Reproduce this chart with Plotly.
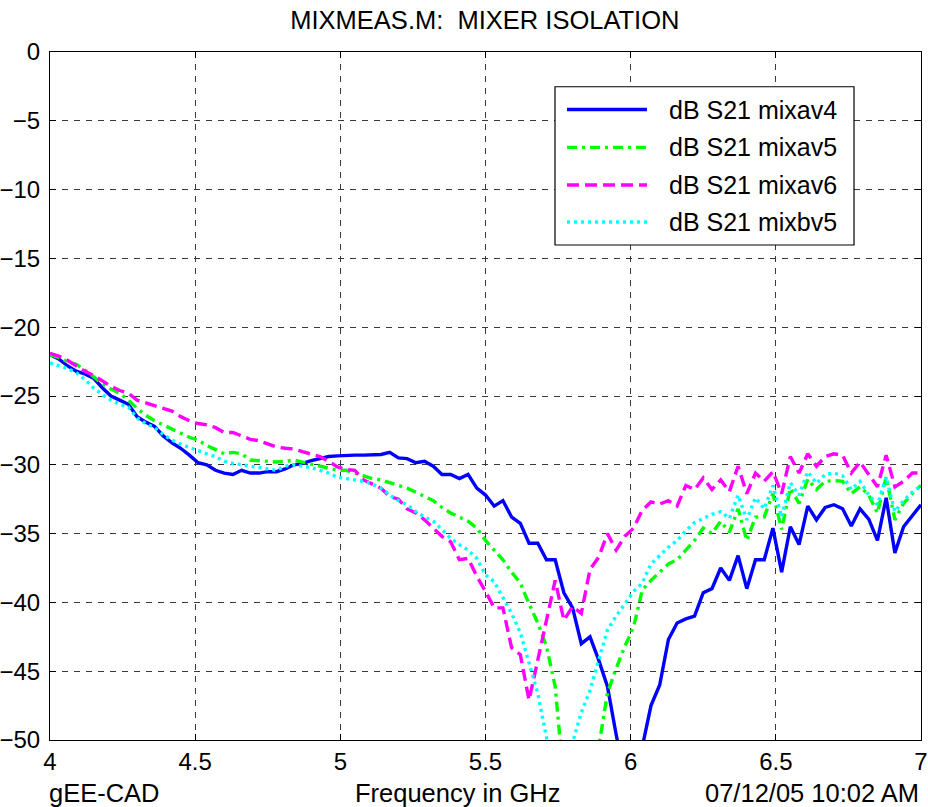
import plotly.graph_objects as go

# Frequency sweep, 4-7 GHz in 30 MHz steps
freq_ghz = [round(4.0 + 0.03 * i, 2) for i in range(101)]

s21_mixav4 = [
    -22.0, -22.3, -22.8, -23.2, -23.4, -23.7, -24.4, -25.0, -25.3, -25.6,
    -26.5, -26.9, -27.2, -27.9, -28.4, -28.8, -29.3, -29.85, -30.0, -30.4,
    -30.6, -30.7, -30.4, -30.6, -30.6, -30.5, -30.5, -30.3, -30.0, -29.9,
    -29.7, -29.55, -29.4, -29.35, -29.3, -29.3, -29.3, -29.3, -29.25, -29.1,
    -29.5, -29.55, -29.85, -29.75, -30.1, -30.7, -30.7, -31.0, -30.7, -31.7,
    -32.2, -33.0, -32.6, -33.8, -34.25, -35.7, -35.7, -36.9, -36.9, -39.3,
    -40.4, -43.0, -42.5, -44.2, -46.1, -49.6, -53.0, -56.0, -50.5, -47.5,
    -46.0, -42.7, -41.5, -41.2, -41.0, -39.3, -39.0, -37.5, -38.4, -36.6,
    -39.0, -36.9, -36.9, -34.6, -37.8, -34.5, -35.8, -33.0, -34.0, -33.1,
    -32.9, -33.2, -34.45, -33.2, -33.95, -35.5, -32.4, -36.4, -34.5, -33.7,
    -32.9,
]

s21_mixav5 = [
    -22.0, -22.2, -22.5, -22.7, -23.1, -23.6, -24.1, -24.5, -24.8, -25.3,
    -25.9, -26.4, -26.8, -27.1, -27.4, -27.7, -28.0, -28.2, -28.6, -28.9,
    -29.2, -29.1, -29.2, -29.65, -29.7, -29.7, -29.8, -29.75, -29.65, -29.8,
    -29.95, -30.1, -30.25, -30.4, -30.4, -30.6, -30.85, -31.0, -31.1, -31.3,
    -31.5, -31.7, -32.0, -32.3, -32.6, -33.1, -33.5, -33.8, -34.1, -34.6,
    -35.5, -36.2, -36.9, -37.8, -38.6, -40.1, -41.5, -43.2, -46.1, -53.0,
    -58.0, -58.0, -55.0, -50.5, -46.6, -44.8, -43.2, -41.8, -39.1, -38.4,
    -37.8, -37.2, -36.9, -36.2, -35.5, -34.6, -35.0, -34.1, -34.9, -33.2,
    -35.5, -33.8, -33.8, -32.1, -34.7, -31.7, -32.8, -31.05, -31.8, -31.2,
    -31.15, -31.2, -32.1, -31.6, -32.2, -33.5, -30.9, -34.0, -32.8, -32.1,
    -31.5,
]

s21_mixav6 = [
    -21.9, -22.1, -22.4, -22.8, -23.2, -23.5, -23.9, -24.3, -24.6, -24.8,
    -25.3, -25.5, -25.65, -25.9, -26.1, -26.5, -26.8, -27.0, -27.1, -27.3,
    -27.65, -27.65, -27.9, -28.15, -28.25, -28.5, -28.7, -28.8, -28.85, -29.05,
    -29.2, -29.4, -29.75, -30.15, -30.35, -30.4, -31.1, -31.4, -31.7, -32.3,
    -32.5, -33.2, -33.5, -34.0, -34.6, -35.2, -35.6, -36.9, -36.8, -38.1,
    -39.2, -40.4, -40.4, -43.3, -43.8, -47.1, -44.2, -41.3, -38.4, -41.3,
    -40.3, -40.8, -37.6, -36.7, -35.0, -36.2, -35.2, -34.6, -33.3, -32.7,
    -32.85, -32.6, -33.0, -31.5, -31.8, -30.95, -31.8, -31.1, -31.95, -30.1,
    -32.1, -30.6, -31.2, -30.5, -32.1, -29.4, -30.6, -29.2, -30.1, -29.4,
    -29.2, -29.3, -30.6, -29.8, -30.7, -31.6, -29.3, -31.6, -31.2, -30.6,
    -30.6,
]

s21_mixbv5 = [
    -22.6, -22.8, -23.0, -23.3, -23.8, -24.4, -24.9, -25.3, -25.6, -25.8,
    -26.6, -27.0, -27.3, -27.8, -28.2, -28.5, -28.75, -29.0, -29.2, -29.4,
    -29.75, -29.9, -30.0, -30.1, -30.2, -30.3, -30.4, -30.1, -30.0, -30.1,
    -30.2, -30.4, -30.6, -30.9, -31.0, -31.1, -31.2, -31.4, -31.7, -32.2,
    -32.6, -32.9, -33.4, -33.8, -34.1, -34.7, -35.35, -35.8, -36.2, -36.8,
    -38.0, -38.5, -39.7, -40.8, -42.2, -44.4, -46.6, -49.8, -53.0, -54.0,
    -50.2, -48.0, -46.4, -44.2, -42.0, -41.0, -40.1, -39.2, -38.6, -37.2,
    -36.6, -36.0, -35.5, -34.8, -34.2, -33.9, -33.6, -33.4, -33.9, -32.2,
    -34.0, -32.4, -33.2, -31.5, -33.8, -31.3, -32.2, -30.5, -31.35, -30.7,
    -30.6, -30.8, -31.8, -31.2, -32.2, -32.9, -30.9, -33.4, -32.6, -32.0,
    -31.5,
]

series = [
    ("dB S21 mixav4", s21_mixav4, "#0000FF", "solid"),
    ("dB S21 mixav5", s21_mixav5, "#00FF00", "10px,5px,3px,5px"),
    ("dB S21 mixav6", s21_mixav6, "#FF00FF", "12px,6px"),
    ("dB S21 mixbv5", s21_mixbv5, "#00FFFF", "3px,4px"),
]

x_ticks = [4, 4.5, 5, 5.5, 6, 6.5, 7]
x_tick_text = ["4", "4.5", "5", "5.5", "6", "6.5", "7"]
y_ticks = [0, -5, -10, -15, -20, -25, -30, -35, -40, -45, -50]

FONT = "Liberation Sans, Arial, sans-serif"

fig = go.Figure()
for name, vals, color, dash in series:
    fig.add_trace(go.Scatter(
        x=freq_ghz, y=vals, mode="lines", name=name,
        line=dict(color=color, width=3.4, dash=dash),
        showlegend=False,
    ))

axis_common = dict(
    showline=True, linecolor="black", linewidth=1, mirror="allticks",
    ticks="inside", ticklen=6, tickcolor="black",
    showgrid=True, gridcolor="#3a3a3a", gridwidth=1, griddash="6px,6px",
    zeroline=False, automargin=False,
    tickfont=dict(family=FONT, size=24, color="black"),
)

fig.update_xaxes(range=[4, 7], tickvals=x_ticks, ticktext=x_tick_text,
                 ticklabelstandoff=0, **axis_common)
fig.update_yaxes(range=[-50, 0], tickvals=y_ticks, ticklabelstandoff=4,
                 **axis_common)

# Legend box drawn in paper coordinates
lx0, lx1 = 0.5798, 0.9231
ly0, ly1 = 0.7195, 0.9495
fig.add_shape(type="rect", xref="paper", yref="paper",
              x0=lx0, x1=lx1, y0=ly0, y1=ly1,
              line=dict(color="black", width=1.2), fillcolor="white", layer="above")
row_y = [0.9164, 0.8614, 0.8067, 0.7528]
for (name, _, color, dash), ry in zip(series, row_y):
    fig.add_shape(type="line", xref="paper", yref="paper",
                  x0=0.5936, x1=0.6854, y0=ry, y1=ry,
                  line=dict(color=color, width=3.4, dash=dash), layer="above")
    fig.add_annotation(xref="paper", yref="paper", x=0.7084, y=ry,
                       text=name, showarrow=False, xanchor="left", yanchor="middle",
                       font=dict(family=FONT, size=25, color="black"))

fig.update_layout(
    width=928, height=807,
    margin=dict(l=50, r=7, t=52, b=67),
    paper_bgcolor="white", plot_bgcolor="white",
    title=dict(text="MIXMEAS.M:  MIXER ISOLATION", x=0.5225, xanchor="center",
               y=0.975, yanchor="middle",
               font=dict(family=FONT, size=25.5, color="black")),
    annotations=list(fig.layout.annotations) + [
        dict(xref="paper", yref="paper", x=-0.003, y=-0.077, text="gEE-CAD",
             showarrow=False, xanchor="left", yanchor="middle",
             font=dict(family=FONT, size=25.5, color="black")),
        dict(xref="paper", yref="paper", x=0.468, y=-0.077, text="Frequency in GHz",
             showarrow=False, xanchor="center", yanchor="middle",
             font=dict(family=FONT, size=25.5, color="black")),
        dict(xref="paper", yref="paper", x=1.0, y=-0.077, text="07/12/05 10:02 AM",
             showarrow=False, xanchor="right", yanchor="middle",
             font=dict(family=FONT, size=25.5, color="black")),
    ],
)

fig.write_html("out.html")
